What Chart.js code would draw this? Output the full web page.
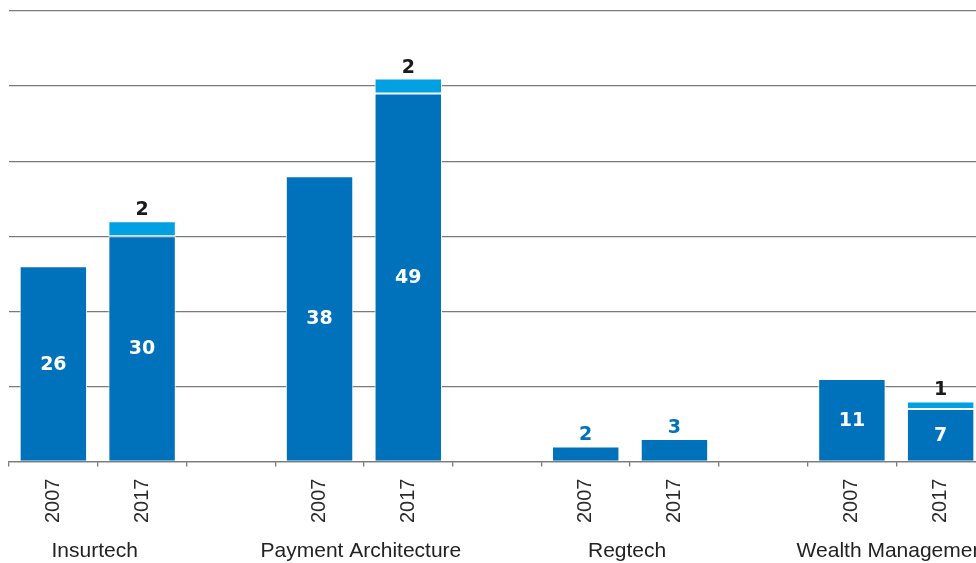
<!DOCTYPE html>
<html lang="en">

<head>
    <meta charset="UTF-8">
    <title>Fintech deals 2007 vs 2017</title>
    <script src="https://cdn.jsdelivr.net/npm/chart.js"></script>
    <style>
        html, body { margin: 0; padding: 0; background: #fff; overflow: hidden; }
        #wrap { position: relative; width: 990px; height: 563px; }
    </style>
</head>

<body>
    <div id="wrap">
        <canvas id="dealChart"></canvas>
    </div>

    <script>
        // data
        const categories = ['Insurtech', 'Payment Architecture', 'Regtech', 'Wealth Management'];
        const years = ['2007', '2017'];
        const deals2007 = [26, 38, 2, 11];
        const deals2017 = [30, 49, 3, 7];
        const extra2017 = [2, 2, 0, 1];
        const yTicks = [0, 10, 20, 30, 40, 50, 60];

        const darkBlue = '#0072bc';
        const lightBlue = '#00a0e3';
        const gridGray = '#7a7a7a';

        // one slot per bar, with an empty slot between categories
        const slotLabels = [];
        const darkValues = [];
        const lightValues = [];
        categories.forEach((cat, c) => {
            if (c > 0) {
                slotLabels.push('');
                darkValues.push(null);
                lightValues.push(null);
            }
            slotLabels.push(years[0], years[1]);
            darkValues.push(deals2007[c], deals2017[c]);
            lightValues.push(null, extra2017[c]);
        });

        const labelPlugin = {
            id: 'barLabels',
            afterDatasetsDraw(chart) {
                const ctx = chart.ctx;
                const dark = chart.getDatasetMeta(0);
                const light = chart.getDatasetMeta(1);
                ctx.save();
                ctx.font = 'bold 19px "DejaVu Sans", sans-serif';
                ctx.textAlign = 'center';

                dark.data.forEach((bar, i) => {
                    const v = darkValues[i];
                    if (v == null) return;
                    if (bar.base - bar.y > 40) {
                        ctx.fillStyle = '#ffffff';
                        ctx.textBaseline = 'middle';
                        ctx.fillText(v, bar.x, (bar.y + bar.base) / 2 + 1);
                    } else {
                        ctx.fillStyle = darkBlue;
                        ctx.textBaseline = 'alphabetic';
                        ctx.fillText(v, bar.x, bar.y - 6);
                    }
                });

                light.data.forEach((bar, i) => {
                    const v = lightValues[i];
                    if (!v) return;
                    ctx.fillStyle = '#1a1a1a';
                    ctx.textBaseline = 'alphabetic';
                    ctx.fillText(v, bar.x, bar.y - 6);
                });

                // category names under the year pairs
                const xScale = chart.scales.x;
                ctx.font = '21px "Liberation Sans", Arial, sans-serif';
                ctx.fillStyle = '#222222';
                categories.forEach((cat, c) => {
                    const i = c * 3;
                    const x = (xScale.getPixelForValue(i) + xScale.getPixelForValue(i + 1)) / 2;
                    ctx.fillText(cat, x - 3, chart.chartArea.bottom + 95);
                });
                ctx.restore();
            }
        };

        const ctxDeals = document.getElementById('dealChart').getContext('2d');
        const dealChart = new Chart(ctxDeals, {
            type: 'bar',
            data: {
                labels: slotLabels,
                datasets: [{
                    data: darkValues,
                    backgroundColor: darkBlue,
                    borderColor: '#ffffff',
                    borderWidth: { top: 1, left: 1, right: 1, bottom: 0 },
                    borderSkipped: 'start'
                }, {
                    data: lightValues,
                    backgroundColor: lightBlue,
                    borderColor: '#ffffff',
                    borderWidth: { top: 1, left: 1, right: 1, bottom: 1 },
                    borderSkipped: false
                }]
            },
            options: {
                responsive: true,
                maintainAspectRatio: false,
                animation: false,
                layout: { padding: { left: 9, right: 5, top: 11, bottom: 28 } },
                plugins: {
                    legend: { display: false },
                    tooltip: { enabled: false }
                },
                datasets: {
                    bar: { categoryPercentage: 1, barPercentage: 0.76 }
                },
                scales: {
                    x: {
                        stacked: true,
                        grid: {
                            offset: true,
                            drawOnChartArea: false,
                            drawTicks: true,
                            tickLength: 5,
                            color: gridGray,
                            lineWidth: 1.3
                        },
                        border: { display: true, color: gridGray, width: 1.3 },
                        ticks: {
                            autoSkip: false,
                            maxRotation: 90,
                            minRotation: 90,
                            padding: 12,
                            color: '#2a2a2a',
                            font: { family: '"Liberation Sans", Arial, sans-serif', size: 20 }
                        }
                    },
                    y: {
                        stacked: true,
                        min: yTicks[0],
                        max: yTicks[yTicks.length - 1],
                        afterBuildTicks: axis => { axis.ticks = yTicks.map(v => ({ value: v })); },
                        grid: { color: gridGray, lineWidth: 1.3, drawTicks: false },
                        border: { display: false },
                        ticks: { display: false }
                    }
                }
            },
            plugins: [labelPlugin]
        });
    </script>
</body>

</html>
